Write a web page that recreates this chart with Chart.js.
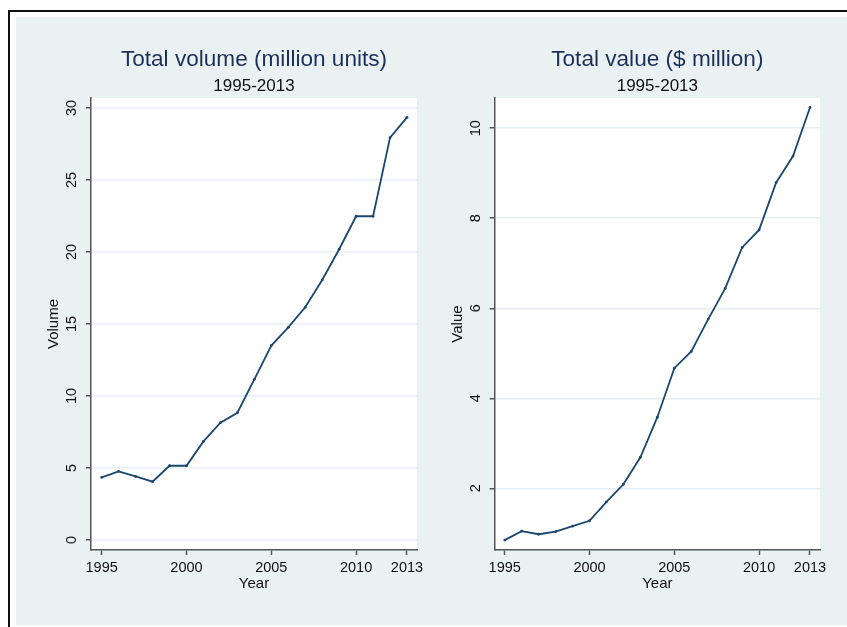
<!DOCTYPE html>
<html>
  <head>
    <script src="https://cdn.jsdelivr.net/npm/chart.js@4.4.0/dist/chart.umd.min.js"></script>
    <style>
      body { margin: 0; background: white; font-family: Arial, "Liberation Sans", sans-serif; }
      #frame { position: absolute; left: 8px; top: 10px; width: 900px; height: 700px;
               border-left: 2px solid #111; border-top: 2px solid #111; }
      #region { position: absolute; left: 16px; top: 17px; width: 831px; height: 608px; background: #eaf1f3; }
      .panel { position: absolute; top: 17px; height: 608px; }
    </style>
  </head>
  <body>
    <div id="frame"></div>
    <div id="region"></div>
    <div class="panel" style="left:16px; width:430px;"><canvas id="volumeChart"></canvas></div>
    <div class="panel" style="left:424px; width:422px;"><canvas id="valueChart"></canvas></div>
  <script>
    // data
    let years = [1995, 1996, 1997, 1998, 1999, 2000, 2001, 2002, 2003, 2004,
                 2005, 2006, 2007, 2008, 2009, 2010, 2011, 2012, 2013];
    let volume = [4.35, 4.77, 4.42, 4.05, 5.16, 5.16, 6.85, 8.15, 8.84, 11.16,
                  13.5, 14.77, 16.16, 18.06, 20.19, 22.48, 22.48, 27.94, 29.35];
    let value = [0.85, 1.05, 0.98, 1.04, 1.16, 1.28, 1.70, 2.09, 2.69, 3.58,
                 4.67, 5.04, 5.76, 6.44, 7.35, 7.74, 8.79, 9.38, 10.46];
    let yearTicks = [1995, 2000, 2005, 2010, 2013];
    let volumeTicks = [0, 5, 10, 15, 20, 25, 30];
    let valueTicks = [2, 4, 6, 8, 10];

    let navy = '#1a476f';
    let axisGray = '#555555';
    let font = 'Arial, "Liberation Sans", sans-serif';

    // white plot region like Stata
    let plotBg = {
      id: 'plotBg',
      beforeDraw(chart) {
        let a = chart.chartArea;
        chart.ctx.save();
        chart.ctx.fillStyle = 'white';
        chart.ctx.fillRect(a.left, a.top, a.right - a.left, a.bottom - a.top);
        chart.ctx.restore();
      }
    };

    function makeChart(id, cfg) {
      let points = years.map((y, i) => ({x: y, y: cfg.values[i]}));
      return new Chart(document.getElementById(id), {
        type: 'line',
        data: {
          datasets: [{
            data: points,
            borderColor: navy,
            backgroundColor: navy,
            borderWidth: 1.8,
            pointRadius: 1.4,
            pointBorderWidth: 0,
            tension: 0
          }]
        },
        options: {
          responsive: true,
          maintainAspectRatio: false,
          animation: false,
          layout: { padding: { top: 29.4, left: 0, right: cfg.padRight, bottom: 0 } },
          plugins: {
            legend: { display: false },
            tooltip: { enabled: false },
            title: {
              display: true, text: cfg.title, color: '#1e2f58', fullSize: false,
              font: { family: font, size: 22.6, weight: 'normal' },
              padding: { top: 0, bottom: 2.3 }
            },
            subtitle: {
              display: true, text: '1995-2013', color: '#111', fullSize: false,
              font: { family: font, size: 17, weight: 'normal' },
              padding: { top: 0, bottom: 1.8 }
            }
          },
          scales: {
            x: {
              type: 'linear',
              min: cfg.xMin, max: cfg.xMax,
              afterBuildTicks: s => { s.ticks = yearTicks.map(v => ({value: v})); },
              afterFit: s => { s.height = 75; },
              grid: { drawOnChartArea: false, tickLength: 5, tickColor: axisGray, tickWidth: 1.5 },
              border: { color: axisGray, width: 1.5 },
              ticks: {
                padding: 0, color: '#111', maxRotation: 0, autoSkip: false,
                font: { family: font, size: 14.5, lineHeight: 1.8 },
                callback: v => String(v)
              },
              title: {
                display: true, text: 'Year', color: '#111',
                font: { family: font, size: 15 },
                padding: { top: 0, bottom: 32 }
              }
            },
            y: {
              min: cfg.yMin, max: cfg.yMax,
              afterBuildTicks: s => { s.ticks = cfg.ticks.map(v => ({value: v})); },
              afterFit: s => { s.width = cfg.axisWidth; },
              grid: { color: '#e6eef1', lineWidth: 1.5, tickLength: 5, tickColor: axisGray, tickWidth: 1.5 },
              border: { color: axisGray, width: 1.5 },
              ticks: {
                padding: cfg.tickPad, color: '#111', minRotation: 90, maxRotation: 90,
                crossAlign: 'center', autoSkip: false,
                font: { family: font, size: 14.5 },
                callback: v => String(v)
              },
              title: {
                display: true, text: cfg.yLabel, color: '#111',
                font: { family: font, size: 15 },
                padding: { top: cfg.titlePad, bottom: 0 }
              }
            }
          }
        },
        plugins: [plotBg]
      });
    }

    makeChart('volumeChart', {
      values: volume, ticks: volumeTicks, title: 'Total volume (million units)', yLabel: 'Volume',
      xMin: 1994.37, xMax: 2013.59, yMin: -0.69, yMax: 30.69,
      axisWidth: 75, tickPad: 6, titlePad: 29, padRight: 29
    });
    makeChart('valueChart', {
      values: value, ticks: valueTicks, title: 'Total value ($ million)', yLabel: 'Value',
      xMin: 1994.41, xMax: 2013.59, yMin: 0.63, yMax: 10.67,
      axisWidth: 70.7, tickPad: 5.4, titlePad: 25.3, padRight: 26
    });
  </script>
  </body>
</html>
